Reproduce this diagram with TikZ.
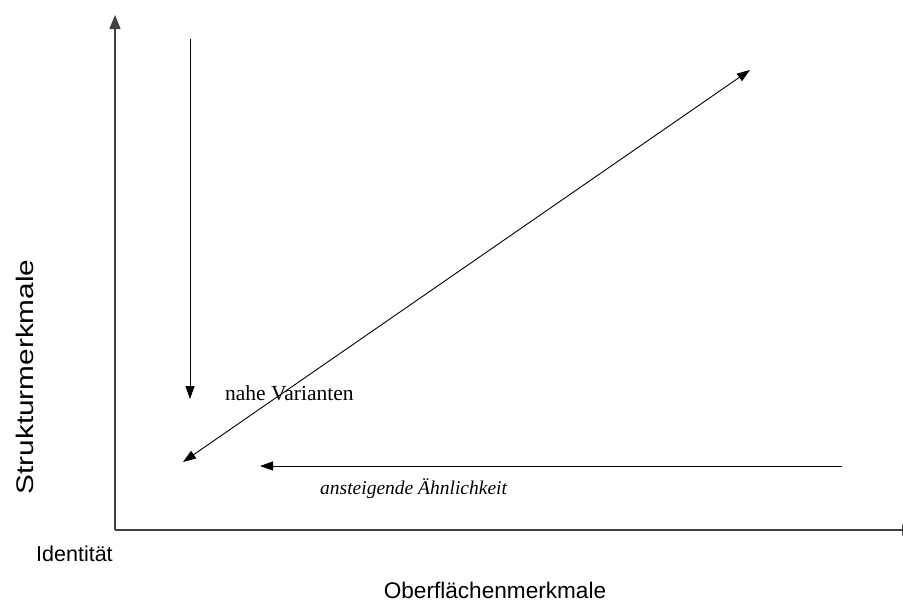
\documentclass[tikz,border=0pt]{standalone}
\usepackage{fontspec}
\setmainfont{Liberation Serif}
\setsansfont{Liberation Sans}
\usetikzlibrary{arrows.meta}

\tikzset{
  achse/.style={draw=black!75, line width=1.3pt, -{Triangle[length=14pt,width=11pt]}},
  pfeil/.style={draw=black, line width=0.9pt, -{Triangle[length=13pt,width=9pt]}},
  doppelpfeil/.style={draw=black, line width=0.9pt, {Triangle[length=13pt,width=9pt]}-{Triangle[length=13pt,width=9pt]}},
  achsentext/.style={font=\sffamily\fontsize{22.6}{25}\selectfont},
  kleintext/.style={font=\sffamily\fontsize{21.5}{24}\selectfont},
  serif/.style={font=\fontsize{21.5}{24}\selectfont}
}

\begin{document}
\begin{tikzpicture}[x=1pt, y=-1pt]
\useasboundingbox (0,0) rectangle (903,603);

% --- Achsen ---
\coordinate (ursprung) at (115,530);
\coordinate (yspitze) at (115,15);
\coordinate (xspitze) at (916,530);
\draw[achse] (ursprung) -- (yspitze);
\draw[achse] (ursprung) -- (xspitze);

% Achsenbeschriftungen
\node[achsentext, anchor=base] (oberflaeche) at (495,598) {Oberflächenmerkmale};
\node[rotate=90, anchor=base, xscale=1.24, font=\sffamily\fontsize{24}{26}\selectfont] (struktur) at (33,377) {Strukturmerkmale};
\node[kleintext, anchor=base west, inner sep=0pt] (identitaet) at (36,561) {Identität};

% --- Pfeile ---
\coordinate (obenstart) at (190,39);
\coordinate (obenende) at (190,399);
\draw[pfeil] (obenstart) -- (obenende);

\coordinate (diaglinks) at (183,462);
\coordinate (diagrechts) at (750,70);
\draw[doppelpfeil] (diaglinks) -- (diagrechts);

\coordinate (waagstart) at (842,466);
\coordinate (waagende) at (260,466);
\draw[pfeil] (waagstart) -- (waagende);

% Beschriftungen
\node[serif, anchor=base west, inner sep=0pt] (nahe) at (225,400) {nahe Varianten};
\node[anchor=base west, inner sep=0pt, font=\itshape\fontsize{19.5}{22}\selectfont] (aehnlich) at (320,494) {ansteigende Ähnlichkeit};

\end{tikzpicture}
\end{document}
